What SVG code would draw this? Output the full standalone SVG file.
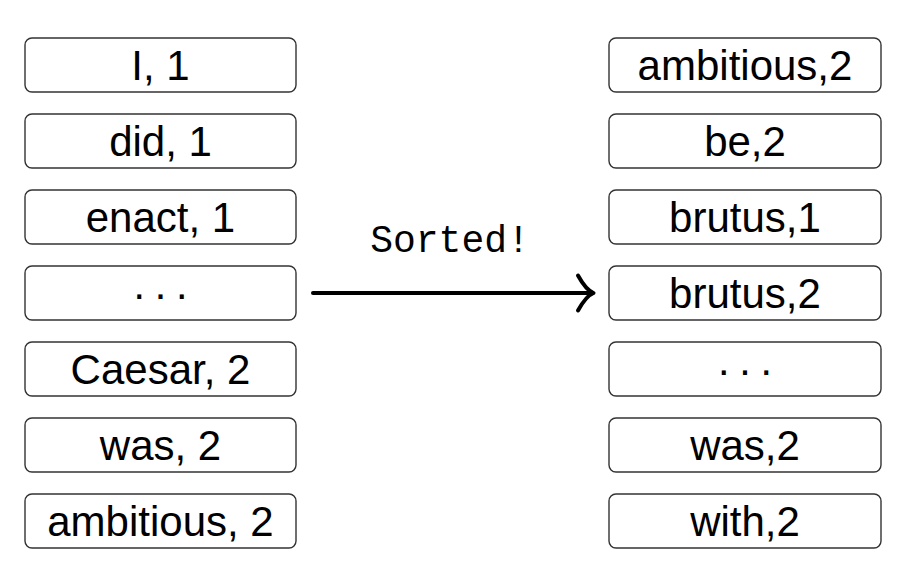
<svg xmlns="http://www.w3.org/2000/svg" width="922" height="570" viewBox="0 0 922 570">
<style>
.box{fill:#fff;stroke:#333;stroke-width:1.4}
.t{font-family:"Liberation Sans",Arial,sans-serif;font-size:42px;fill:#000;text-anchor:middle}
.dots{word-spacing:-4.5px}
.mono{font-family:"Liberation Mono","Courier New",monospace;font-size:38px;fill:#000;text-anchor:middle}
.conn{stroke:#000;stroke-width:4;fill:none;stroke-linecap:round;stroke-linejoin:round}
</style>
<g id="l1"><rect class="box" x="25" y="38" width="271" height="54" rx="7"/><text class="t" x="160.5" y="79.5">I, 1</text></g>
<g id="l2"><rect class="box" x="25" y="114" width="271" height="54" rx="7"/><text class="t" x="160.5" y="155.5">did, 1</text></g>
<g id="l3"><rect class="box" x="25" y="190" width="271" height="54" rx="7"/><text class="t" x="160.5" y="231.5">enact, 1</text></g>
<g id="l4"><rect class="box" x="25" y="266" width="271" height="54" rx="7"/><text class="t dots" x="160.5" y="307.5">· · ·</text></g>
<g id="l5"><rect class="box" x="25" y="342" width="271" height="54" rx="7"/><text class="t" x="160.5" y="383.5">Caesar, 2</text></g>
<g id="l6"><rect class="box" x="25" y="418" width="271" height="54" rx="7"/><text class="t" x="160.5" y="459.5">was, 2</text></g>
<g id="l7"><rect class="box" x="25" y="494" width="271" height="54" rx="7"/><text class="t" x="160.5" y="535.5">ambitious, 2</text></g>
<g id="r1"><rect class="box" x="609" y="38" width="272" height="54" rx="7"/><text class="t" x="745" y="79.5">ambitious,2</text></g>
<g id="r2"><rect class="box" x="609" y="114" width="272" height="54" rx="7"/><text class="t" x="745" y="155.5">be,2</text></g>
<g id="r3"><rect class="box" x="609" y="190" width="272" height="54" rx="7"/><text class="t" x="745" y="231.5">brutus,1</text></g>
<g id="r4"><rect class="box" x="609" y="266" width="272" height="54" rx="7"/><text class="t" x="745" y="307.5">brutus,2</text></g>
<g id="r5"><rect class="box" x="609" y="342" width="272" height="54" rx="7"/><text class="t dots" x="745" y="383.5">· · ·</text></g>
<g id="r6"><rect class="box" x="609" y="418" width="272" height="54" rx="7"/><text class="t" x="745" y="459.5">was,2</text></g>
<g id="r7"><rect class="box" x="609" y="494" width="272" height="54" rx="7"/><text class="t" x="745" y="535.5">with,2</text></g>
<g id="connectors">
<line class="conn" x1="313" y1="293" x2="592" y2="293"/>
<path class="conn" d="M578,275.5 Q586,290 593.5,293 Q586,296 578,310.5"/>
<text class="mono" x="450" y="252">Sorted!</text>
</g>
</svg>
